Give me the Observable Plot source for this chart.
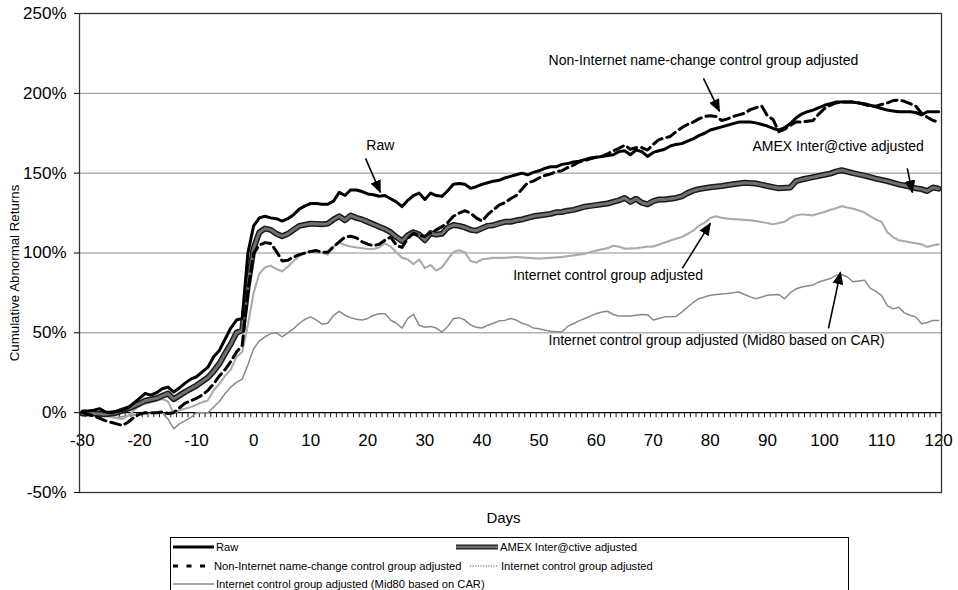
<!DOCTYPE html>
<html><head><meta charset="utf-8">
<script src="https://cdn.jsdelivr.net/npm/d3@7"></script>
<script src="https://cdn.jsdelivr.net/npm/@observablehq/plot@0.6"></script>
<style>
body{margin:0;background:#fff;font-family:"Liberation Sans",Arial,sans-serif;}
#wrap{position:relative;width:958px;height:590px;overflow:hidden;background:#fff;}
#chart{position:absolute;left:0;top:0;}
#legend{position:absolute;left:170px;top:537px;width:677px;height:60px;border:1px solid #000;border-bottom:none;font-size:11.2px;color:#000;}
.item{position:absolute;display:flex;align-items:center;white-space:nowrap;height:14px;}
.item svg{flex:none;}
</style></head><body><div id="wrap"><div id="chart"></div><div id="legend"></div></div>
<script>
// ---- data (day, cumulative abnormal return in %) ----
const xLabels = [-30,-20,-10,0,10,20,30,40,50,60,70,80,90,100,110,120];
const yTicks = [-50,0,50,100,150,200,250];
const gridLevels = [50,100,150,200];

const raw = [[-30,1],[-29,1],[-28,1.5],[-27,2.5],[-26,0.5],[-25,0],[-24,0.5],[-23,1.5],[-22,3],[-21,6],[-20,9],[-19,12],[-18,11],[-17,12.5],[-16,15],[-15,16],[-14,13],[-13,15.5],[-12,18.5],[-11,21],[-10,22.5],[-9,25.5],[-8,28.5],[-7,35],[-6,39],[-5,46],[-4,53],[-3,58],[-2,59],[-1,100],[0,117],[1,122],[2,123],[3,122],[4,121.5],[5,120],[6,121.5],[7,124],[8,127.5],[9,129.5],[10,131],[11,131],[12,130.5],[13,130.5],[14,132.5],[15,138],[16,136],[17,139.5],[18,139.5],[19,138.5],[20,137],[21,136.5],[22,135.5],[23,136],[24,134],[25,132],[26,129],[27,133],[28,136],[29,137.5],[30,133.5],[31,137.5],[32,136],[33,135.5],[34,139],[35,143],[36,143.5],[37,143],[38,140.5],[39,141.5],[40,143],[41,144],[42,145],[43,145.5],[44,147],[45,148],[46,149],[47,150],[48,149],[49,150.5],[50,151.5],[51,153],[52,154],[53,154],[54,155.5],[55,156],[56,157],[57,157.5],[58,158.5],[59,159.5],[60,160],[61,160.5],[62,161],[63,161.5],[64,163.5],[65,164],[66,161.5],[67,164.5],[68,163.5],[69,160.5],[70,163],[71,164],[72,165],[73,167],[74,168],[75,168.5],[76,170],[77,171.5],[78,173.5],[79,175],[80,177],[81,178],[82,179],[83,180],[84,181],[85,182],[86,182],[87,182],[88,181.5],[89,180.5],[90,179.5],[91,178],[92,177],[93,178.5],[94,181],[95,184.5],[96,187],[97,188.5],[98,189.5],[99,191],[100,192.5],[101,193.5],[102,194.5],[103,194.5],[104,194.5],[105,194.5],[106,194],[107,193.5],[108,192.5],[109,191.5],[110,190.5],[111,189.5],[112,189],[113,188.5],[114,188.5],[115,188.5],[116,188],[117,186.5],[118,188.5],[119,188.5],[120,188.5]];

const amex = [[-30,-0.5],[-28,-0.5],[-26,-1],[-24,0],[-22,2.5],[-20,5.6],[-19,7.5],[-17,9],[-15,12],[-14,8.5],[-12,13],[-10,17],[-8,22],[-7,26],[-6,30.7],[-5,37],[-4,43],[-3,50],[-2,51.6],[-1,80],[0,103],[1,113],[2,115.3],[3,114.5],[4,112],[5,110.5],[6,112],[7,114.5],[8,117],[10,118.4],[12,118],[13,118.4],[14,121],[15,123],[16,120.5],[17,123.5],[18,122],[19,121],[20,119.5],[21,118],[22,116.5],[23,115],[24,113],[25,110],[26,107.5],[27,111],[28,113],[29,111.5],[30,108],[31,112.5],[32,111.5],[33,112],[34,116],[35,117.5],[36,117],[37,116],[38,114.5],[39,114],[40,115.5],[41,117],[42,117.4],[43,118.5],[44,119.5],[45,119.5],[46,120.5],[47,121],[48,122],[49,123],[50,123.5],[51,124],[52,124.5],[53,125.5],[54,125.7],[55,126.5],[56,127],[57,128],[58,129],[59,129.5],[60,130],[61,130.5],[62,131],[63,132],[64,133],[65,134.5],[66,132],[67,134],[68,131.5],[69,130.5],[70,132.5],[71,133.5],[72,133.5],[73,134],[74,134.5],[75,135.5],[76,137.5],[77,139],[78,140],[80,141.2],[82,142],[84,143],[86,144],[88,143.5],[90,142],[92,140.5],[94,141],[95,145],[96,146],[98,147.5],[100,149],[101,149.7],[102,151],[103,151.8],[104,151],[105,150],[107,148.5],[109,146.6],[111,145],[113,143],[115,141.5],[116,140.5],[117,140],[118,138.8],[119,141],[120,140.3]];

const nonInternet = [[-30,0],[-29,-1],[-28,-2],[-27,-3.5],[-26,-5],[-25,-6],[-24,-7],[-23,-8],[-22,-6],[-21,-3],[-20,-1],[-19,0],[-18,0],[-17,0],[-16,0.5],[-15,-0.5],[-14,0],[-13,3],[-12,6],[-11,7.5],[-10,9],[-9,11],[-8,14],[-7,18],[-6,23],[-5,27],[-4,32],[-3,38],[-2,42],[-1,77],[0,99.6],[1,105],[2,106.5],[3,106],[4,101],[5,95],[6,95.5],[7,97.5],[8,99],[9,100],[10,101],[11,101.5],[12,100.5],[13,100.5],[14,104],[15,107],[16,110],[17,110.5],[18,109.5],[19,107],[20,105.5],[21,104.5],[22,105.5],[23,108],[24,110],[25,105],[26,103.5],[27,109],[28,112.5],[29,111],[30,110.5],[31,112.5],[32,114.5],[33,116.5],[34,119],[35,123],[36,125],[37,126.5],[38,125],[39,122],[40,120],[41,124],[42,127],[43,130],[44,131.5],[45,134],[46,136],[47,140],[48,144],[49,145],[50,147],[51,148.5],[52,149.5],[53,151],[54,151.5],[55,153.5],[56,155],[57,157],[58,158],[59,159],[60,160],[61,160.5],[62,162],[63,164],[64,165.5],[65,167.5],[66,165],[67,166],[68,166],[69,164.5],[70,168],[71,171],[72,172],[73,173],[74,176],[75,178.5],[76,180.5],[77,182],[78,184],[79,185.5],[80,186],[81,185.5],[82,183],[83,184],[84,185.5],[85,186.5],[86,187.5],[87,189.8],[88,191],[89,192],[90,186],[91,183.6],[92,176],[93,177.5],[94,180],[95,182],[96,182],[97,182.5],[98,183],[99,187],[100,190.5],[101,192.5],[102,194],[103,194.5],[104,194.6],[105,194.5],[106,194],[107,193],[108,192],[109,192],[110,193],[111,194],[112,195.5],[113,195.7],[114,195],[115,193.5],[116,192],[117,187.5],[118,185],[119,183],[120,182]];

const internetCtrl = [[-30,-1],[-28,-1],[-26,-2],[-24,-3.5],[-23,-4],[-22,-2],[-20,4.5],[-18,6.5],[-16,8.5],[-15,7],[-14,-0.5],[-13,1.5],[-11,3.5],[-10,5],[-9,6.5],[-8,7.7],[-7,14],[-6,18],[-5,23],[-4,27],[-3,35],[-2,38],[-1,55],[0,75],[1,87],[2,91],[3,92],[4,90],[5,88.5],[6,91.5],[7,95],[8,98],[9,100],[10,101],[11,100.5],[12,100],[13,99],[14,104],[15,106.5],[16,105],[17,104],[18,103.5],[19,103],[20,102.5],[21,102.5],[22,103.5],[23,106],[24,104],[25,100.5],[26,97],[27,96],[28,93],[29,96],[30,90.5],[31,92.5],[32,89],[33,91],[34,96],[35,100.6],[36,101.7],[37,100.5],[38,95],[39,94],[40,96],[42,97],[44,97],[46,97.5],[48,97],[50,96.5],[52,97],[54,97.5],[56,98.5],[58,99.5],[60,101.5],[62,103],[63,104.5],[64,104],[65,102.7],[67,103],[69,104],[70,104],[72,106.5],[74,109],[75,110],[76,112],[77,114],[78,117],[79,119],[80,122],[81,123],[82,122],[83,121.5],[85,121],[87,120.5],[89,119.4],[91,118],[93,119.5],[94,122],[95,123.5],[96,124.2],[98,123.6],[100,125.7],[101,127],[102,128],[103,129.3],[104,128.5],[105,127.8],[107,125.5],[108,123],[109,121],[110,119.5],[111,113],[112,110],[113,108],[115,106.7],[117,105.5],[118,103.8],[119,104.8],[120,105.4]];

const mid80 = [[-30,0],[-28,-1],[-26,-2],[-24,-3],[-22,-2],[-20,-1],[-18,-0.5],[-16,0],[-15,-4],[-14,-10],[-13,-7],[-12,-5],[-11,-3],[-10,0],[-8,0],[-7,3.5],[-6,7],[-5,12],[-4,16],[-3,19],[-2,21],[-1,30],[0,40],[1,45],[2,47.5],[3,49.5],[4,50],[5,47.5],[6,50],[7,52.6],[8,56],[9,58.5],[10,60],[11,58],[12,55.5],[13,56],[14,61],[15,63.5],[16,61],[17,59.5],[18,58.5],[19,58],[20,59],[21,61],[22,62],[23,62],[24,58],[25,56],[26,53],[27,59],[28,61.6],[29,54.7],[30,53.5],[31,54],[32,53],[33,50.5],[34,54],[35,59],[36,59.5],[37,58],[38,55],[39,53.5],[40,53],[41,54.7],[42,56],[43,57.5],[44,57.8],[45,59],[46,58],[47,56],[48,55],[49,53],[50,52.6],[52,51],[54,50.5],[55,54],[56,55.7],[57,57.5],[58,59],[60,62],[61,63],[62,63.5],[63,61.5],[64,60.5],[66,60.5],[68,61.5],[69,61.4],[70,58],[71,59],[72,60],[74,60.3],[75,63],[76,66],[77,69],[78,71.4],[80,73.5],[81,74],[83,74.6],[85,75.6],[86,74],[87,72.5],[88,71.4],[90,73.5],[92,74],[93,71.4],[94,75],[95,77.5],[96,78.7],[98,80],[99,81.8],[101,84],[102,86],[103,86.5],[104,85],[105,82],[106,82.5],[107,83],[108,78],[109,76],[110,73.5],[111,67],[112,65],[113,66],[114,62.5],[115,61],[116,60],[117,55.7],[118,56.5],[119,57.8],[120,57.8]];

const seriesNames = ["Raw","AMEX Inter@ctive adjusted","Non-Internet name-change control group adjusted","Internet control group adjusted","Internet control group adjusted (Mid80 based on CAR)"];

const notes = [
  {label:"Non-Internet name-change control group adjusted", tx:78.8, ty:220.7, x1:78.8, y1:209.4, x2:81.6, y2:188.8},
  {label:"Raw", tx:22.2, ty:167.5, x1:19.6, y1:159.3, x2:22.2, y2:138},
  {label:"AMEX Inter@ctive adjusted", tx:102.4, ty:166.4, x1:114.5, y1:153, x2:115.4, y2:138},
  {label:"Internet control group adjusted", tx:62.1, ty:86, x1:75.1, y1:90.4, x2:80, y2:118.6},
  {label:"Internet control group adjusted (Mid80 based on CAR)", tx:81.1, ty:45.3, x1:100.7, y1:52.8, x2:102.8, y2:87.9}
];

// ---- build ----
const toRows = (arr) => arr.map(([day, value]) => ({day, value}));
const dayTicks = d3.range(-30.5, 121, 1);
const FONT = '"Liberation Sans", Arial, Helvetica, sans-serif';

const plot = Plot.plot({
  width: 958,
  height: 537,
  marginLeft: 79,
  marginRight: 17,
  marginTop: 13,
  marginBottom: 45,
  style: {fontFamily: FONT, color: "#000", background: "#fff", overflow: "visible"},
  x: {domain: [-30.5, 120.5], axis: null},
  y: {domain: [-50, 250], axis: null},
  marks: [
    Plot.ruleY(gridLevels, {stroke: "#8c8c8c", strokeWidth: 1}),
    Plot.ruleY([0], {stroke: "#000", strokeWidth: 1.3}),
    Plot.ruleX(dayTicks, {x: d => d, y1: 0, y2: -3.2, stroke: "#000", strokeWidth: 0.9}),
    Plot.text(xLabels, {x: d => d, y: 0, dy: 28, text: d => String(d), fontSize: 17, fill: "#000"}),
    Plot.line(toRows(mid80), {x: "day", y: "value", stroke: "#8a8a8a", strokeWidth: 1.5}),
    Plot.line(toRows(internetCtrl), {x: "day", y: "value", stroke: "#ababab", strokeWidth: 2.2, strokeDasharray: "1.2,1.4"}),
    Plot.line(toRows(amex), {x: "day", y: "value", stroke: "#1a1a1a", strokeWidth: 6}),
    Plot.line(toRows(amex), {x: "day", y: "value", stroke: "#707070", strokeWidth: 3}),
    Plot.line(toRows(nonInternet), {x: "day", y: "value", stroke: "#000", strokeWidth: 3, strokeDasharray: "10,5"}),
    Plot.line(toRows(raw), {x: "day", y: "value", stroke: "#000", strokeWidth: 3}),
    Plot.frame({stroke: "#333", strokeWidth: 1.3}),
    Plot.axisY(yTicks, {tickSize: 5, tickPadding: 8, tickFormat: d => d + "%", fontSize: 17, label: null, stroke: "#000"}),
    Plot.text(["Days"], {frameAnchor: "bottom", dy: 30, dx: -7, fontSize: 15, fill: "#000"}),
    Plot.text(["Cumulative Abnormal Returns"], {frameAnchor: "left", textAnchor: "middle", dx: -65, dy: 20, rotate: -90, fontSize: 13.3, fill: "#000"}),
    Plot.text(notes, {x: "tx", y: "ty", text: "label", fontSize: 14, fill: "#000"}),
    Plot.link(notes, {x1: "x1", y1: "y1", x2: "x2", y2: "y2", stroke: "#000", strokeWidth: 1.6})
  ]
});

// filled arrow heads on the annotation links
const NS = "http://www.w3.org/2000/svg";
const defs = document.createElementNS(NS, "defs");
const marker = document.createElementNS(NS, "marker");
marker.setAttribute("id", "ahead");
marker.setAttribute("viewBox", "0 0 12 10");
marker.setAttribute("refX", "11");
marker.setAttribute("refY", "5");
marker.setAttribute("markerWidth", "13");
marker.setAttribute("markerHeight", "11");
marker.setAttribute("markerUnits", "userSpaceOnUse");
marker.setAttribute("orient", "auto");
const mp = document.createElementNS(NS, "path");
mp.setAttribute("d", "M0,0L12,5L0,10z");
mp.setAttribute("fill", "#000");
marker.appendChild(mp);
defs.appendChild(marker);
plot.insertBefore(defs, plot.firstChild);
plot.querySelectorAll('g[aria-label="link"] path').forEach(p => p.setAttribute("marker-end", "url(#ahead)"));

document.getElementById("chart").appendChild(plot);

// ---- legend ----
const legendItems = [
  {name: seriesNames[0], left: 2, top: 2, w: 41, gap: 2, kind: "raw"},
  {name: seriesNames[1], left: 285, top: 2, w: 42, gap: 2, kind: "amex"},
  {name: seriesNames[2], left: 2, top: 21, w: 32, gap: 9, kind: "dash"},
  {name: seriesNames[3], left: 299, top: 21, w: 28, gap: 3, kind: "dot"},
  {name: seriesNames[4], left: 2, top: 39, w: 41, gap: 2, kind: "mid"}
];
const legend = document.getElementById("legend");
for (const it of legendItems) {
  const div = document.createElement("div");
  div.className = "item";
  div.style.left = it.left + "px";
  div.style.top = it.top + "px";
  let line;
  if (it.kind === "raw") line = `<line x1="0" y1="7" x2="${it.w}" y2="7" stroke="#000" stroke-width="3"/>`;
  if (it.kind === "amex") line = `<line x1="0" y1="7" x2="${it.w}" y2="7" stroke="#1a1a1a" stroke-width="5"/><line x1="0" y1="7" x2="${it.w}" y2="7" stroke="#707070" stroke-width="2.5"/>`;
  if (it.kind === "dash") line = `<line x1="0" y1="7" x2="${it.w}" y2="7" stroke="#000" stroke-width="3" stroke-dasharray="5,8.5"/>`;
  if (it.kind === "dot") line = `<line x1="0" y1="7" x2="${it.w}" y2="7" stroke="#ababab" stroke-width="2.2" stroke-dasharray="1.2,1.4"/>`;
  if (it.kind === "mid") line = `<line x1="0" y1="7" x2="${it.w}" y2="7" stroke="#8a8a8a" stroke-width="1.5"/>`;
  div.innerHTML = `<svg width="${it.w}" height="14">${line}</svg><span style="margin-left:${it.gap}px">${it.name}</span>`;
  legend.appendChild(div);
}
</script></body></html>
